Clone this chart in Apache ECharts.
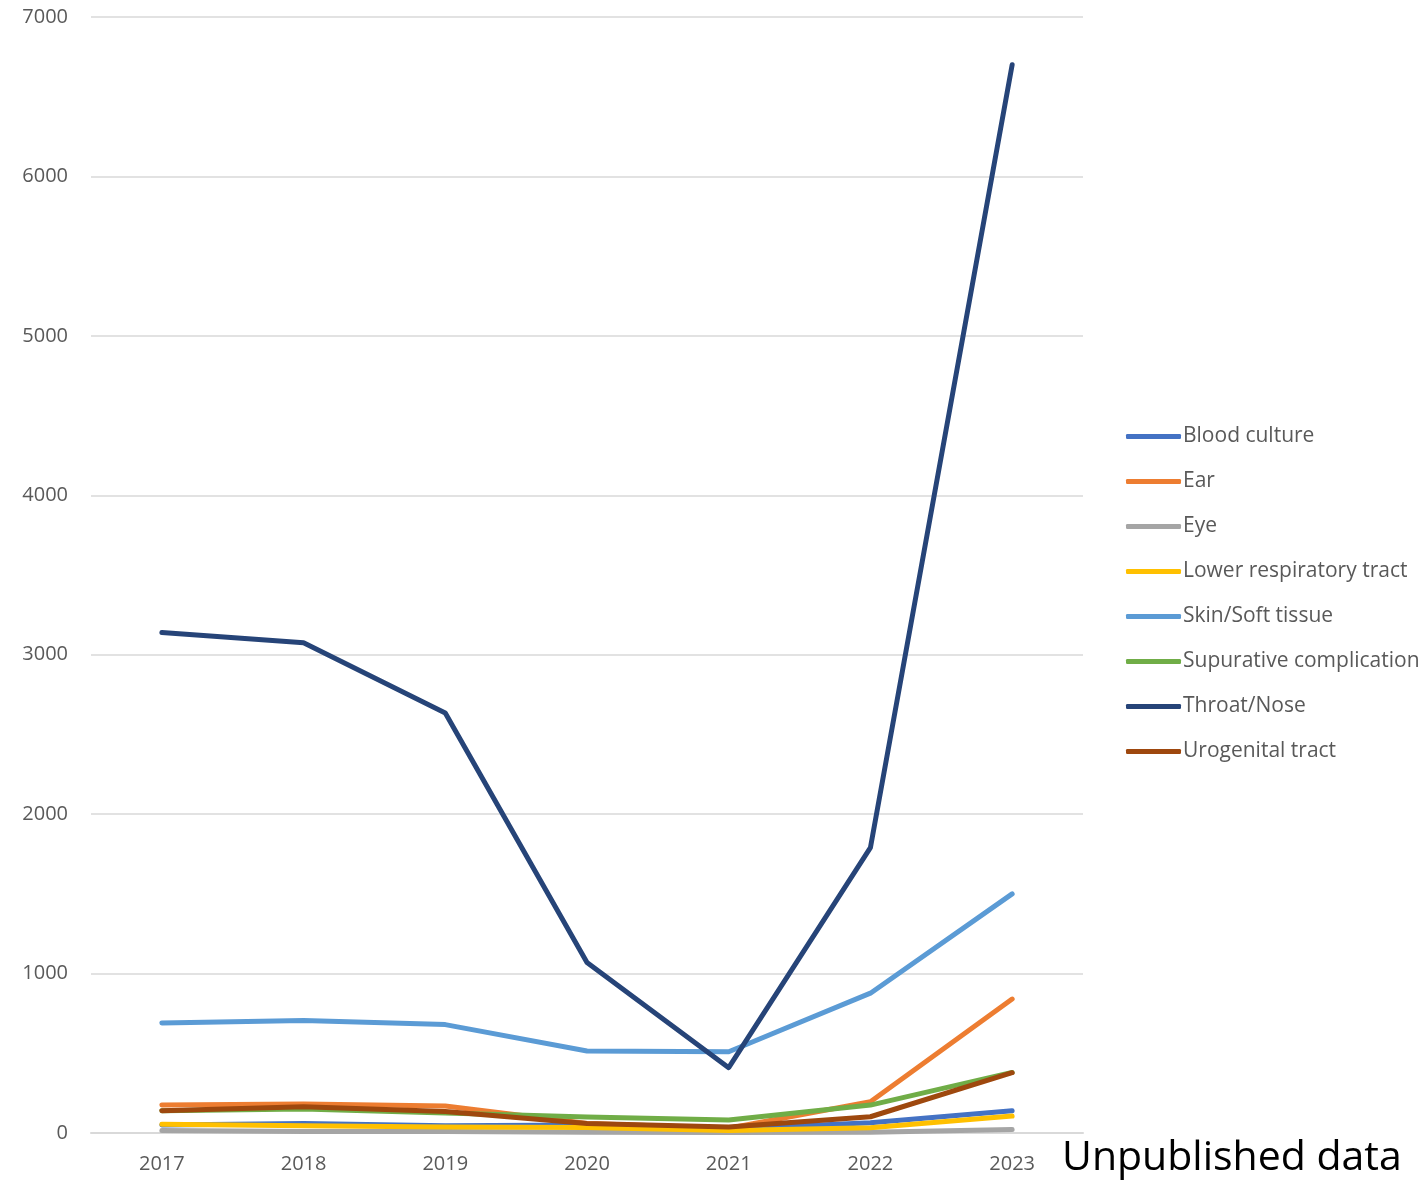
<!DOCTYPE html>
<html><head><meta charset="utf-8">
<script src="https://cdn.jsdelivr.net/npm/echarts@6/dist/echarts.min.js"></script>
<style>html,body{margin:0;padding:0;background:#fff}#c{width:1425px;height:1182px}</style>
</head><body><div id="c"></div>
<script>
const years = ['2017','2018','2019','2020','2021','2022','2023'];
const seriesNames = ['Blood culture','Ear','Eye','Lower respiratory tract','Skin/Soft tissue','Supurative complication','Throat/Nose','Urogenital tract'];
const bloodCulture = [50, 60, 45, 50, 25, 65, 140];
const ear = [175, 182, 169, 60, 30, 196, 840];
const eye = [15, 10, 10, 5, 3, 5, 22];
const lowerResp = [55, 45, 38, 35, 15, 33, 106];
const skinSoft = [690, 705, 680, 514, 510, 877, 1500];
const supurative = [140, 150, 125, 100, 81, 175, 380];
const throatNose = [3140, 3075, 2635, 1070, 410, 1790, 6700];
const urogenital = [140, 165, 135, 60, 38, 102, 378];
const seriesData = [bloodCulture, ear, eye, lowerResp, skinSoft, supurative, throatNose, urogenital];
const colors = ['#4472C4','#ED7D31','#A5A5A5','#FFC000','#5B9BD5','#70AD47','#264478','#9E480E'];

const chart = echarts.init(document.getElementById('c'), null, {renderer:'canvas'});
const font = "'Open Sans', 'Noto Sans', sans-serif";
chart.setOption({
  animation:false,
  color: colors,
  grid:{left:91, right:342, top:17, bottom:49, containLabel:false},
  legend:{
    orient:'vertical', left:1121, top:421,
    itemWidth:55, itemHeight:5, itemGap:24, icon:'roundRect',
    textStyle:{fontFamily:font, fontSize:21, color:'#595959', padding:[0,0,0,-3]},
    data: seriesNames
  },
  xAxis:{
    type:'category', data: years, boundaryGap:true,
    axisLine:{show:true, lineStyle:{color:'#d9d9d9', width:2}},
    axisTick:{show:false},
    axisLabel:{fontFamily:font, fontSize:20, color:'#595959', margin:21}
  },
  yAxis:{
    type:'value', min:0, max:7000, interval:1000,
    axisLine:{show:false}, axisTick:{show:false},
    splitLine:{lineStyle:{color:'#d9d9d9', width:1.5}},
    axisLabel:{fontFamily:font, fontSize:20, color:'#595959', margin:23, formatter:v=>String(v)}
  },
  series: seriesNames.map((n,i)=>({
    name:n, type:'line', data: seriesData[i], symbol:'none',
    lineStyle:{width:5, color:colors[i], cap:'round', join:'round'},
    itemStyle:{color:colors[i]}
  })),
  graphic:[{type:'text', left:1062, top:1138,
    style:{text:'Unpublished data', fontFamily:font, fontSize:41, fill:'#000'}}]
});
</script></body></html>
